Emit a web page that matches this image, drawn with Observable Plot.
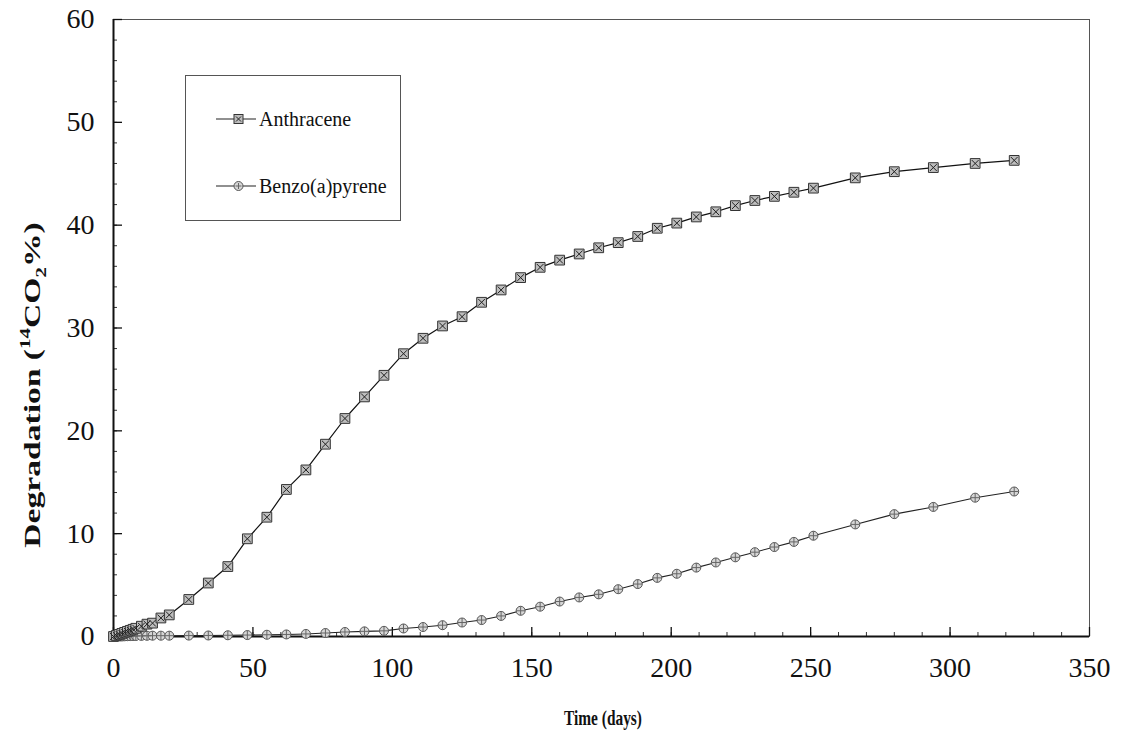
<!DOCTYPE html>
<html><head><meta charset="utf-8">
<script src="https://cdn.jsdelivr.net/npm/d3@7"></script>
<script src="https://cdn.jsdelivr.net/npm/@observablehq/plot@0.6"></script>
<style>
html,body{margin:0;padding:0;background:#fff;}
#wrap{position:relative;width:1127px;height:739px;overflow:hidden;}
.legend{position:absolute;left:185px;top:75px;width:216px;height:146px;border:1px solid #555;box-sizing:border-box;background:#fff;font-family:"Liberation Serif","Times New Roman",serif;font-size:20px;color:#111;}
</style></head><body><div id="wrap"></div>
<script>
// ---- data ----
const days = [0,1,2,3,4,5,6,7,8,10,12,14,17,20,27,34,41,48,55,62,69,76,83,90,97,104,111,118,125,132,139,146,153,160,167,174,181,188,195,202,209,216,223,230,237,244,251,266,280,294,309,323];
const anthracene = [0,0.1,0.2,0.3,0.4,0.5,0.6,0.7,0.8,1.0,1.2,1.3,1.8,2.1,3.6,5.2,6.8,9.5,11.6,14.3,16.2,18.7,21.2,23.3,25.4,27.5,29.0,30.2,31.1,32.5,33.7,34.9,35.9,36.6,37.2,37.8,38.3,38.9,39.7,40.2,40.8,41.3,41.9,42.4,42.8,43.2,43.6,44.6,45.2,45.6,46.0,46.3];
const benzopyrene = [0,0,0,0,0.02,0.03,0.04,0.05,0.05,0.06,0.07,0.08,0.08,0.08,0.09,0.1,0.12,0.14,0.17,0.2,0.25,0.34,0.44,0.5,0.55,0.78,0.92,1.1,1.36,1.6,2.0,2.5,2.9,3.4,3.8,4.1,4.6,5.1,5.7,6.1,6.7,7.2,7.7,8.2,8.7,9.2,9.8,10.9,11.9,12.6,13.5,14.1];
const seriesNames = ["Anthracene","Benzo(a)pyrene"];
const xTicks = [0,50,100,150,200,250,300,350];
const yTicks = [0,10,20,30,40,50,60];
const xMinor = d3.range(0,351,10);
const yMinor = d3.range(0,61,2);
const xTitle = "Time (days)";

const antData = days.map((d,i)=>({day:d, value:anthracene[i]}));
const bapData = days.map((d,i)=>({day:d, value:benzopyrene[i]}));

const W = 1127, H = 739;
const mL = 113, mR = 38, mT = 19, mB = 103;
const fw = W - mL - mR, fh = H - mT - mB;

const svg = Plot.plot({
  width: W, height: H,
  marginLeft: mL, marginRight: mR, marginTop: mT, marginBottom: mB,
  style: {fontFamily: "'Liberation Serif','Times New Roman',serif", fontSize: "28px", background: "#fff", color: "#111"},
  x: {domain: [0,350]},
  y: {domain: [0,60]},
  marks: [
    Plot.frame({stroke: "#555", strokeWidth: 1}),
    Plot.tickX(xMinor, {x: d=>d, insetTop: fh-4, stroke: "#333"}),
    Plot.tickX(xTicks, {x: d=>d, insetTop: fh-9, stroke: "#111", strokeWidth: 1.3}),
    Plot.tickY(yMinor, {y: d=>d, insetRight: fw-4, stroke: "#333"}),
    Plot.tickY(yTicks, {y: d=>d, insetRight: fw-9, stroke: "#111", strokeWidth: 1.3}),
    Plot.ruleX([0], {stroke: "#111", strokeWidth: 2}),
    Plot.ruleY([0], {stroke: "#111", strokeWidth: 2}),
    Plot.axisX({ticks: xTicks, tickSize: 0, tickPadding: 21, label: null, tickFormat: d=>String(d)}),
    Plot.axisY({ticks: yTicks, tickSize: 0, tickPadding: 19, label: null, tickFormat: d=>String(d)}),
    Plot.line(bapData, {x: "day", y: "value", stroke: "#222", strokeWidth: 1.1}),
    Plot.dot(bapData, {x: "day", y: "value", symbol: "circle", r: 4.5, fill: "#d6d6d6", stroke: "#555", strokeWidth: 1}),
    Plot.dot(bapData, {x: "day", y: "value", symbol: "plus", r: 3, stroke: "#666", strokeWidth: 1}),
    Plot.line(antData, {x: "day", y: "value", stroke: "#111", strokeWidth: 1.2}),
    Plot.dot(antData, {x: "day", y: "value", symbol: "square", r: 5.5, fill: "#bdbdbd", stroke: "#333", strokeWidth: 1}),
    Plot.dot(antData, {x: "day", y: "value", symbol: "times", r: 3.2, stroke: "#222", strokeWidth: 1})
  ]
});

const s = d3.select(svg);
s.append("text")
  .attr("transform", `translate(${mL + fw/2 + 2},725) scale(0.7,1)`)
  .attr("text-anchor", "middle")
  .attr("font-weight", "bold").attr("font-size", 22)
  .text(xTitle);

const yt = s.append("text")
  .attr("transform", `translate(40,385) rotate(-90) scale(1.4,1)`)
  .attr("text-anchor", "middle")
  .attr("font-weight", "bold").attr("font-size", 24);
yt.append("tspan").text("Degradation (");
yt.append("tspan").attr("dy", -10).attr("font-size", 15).text("14");
yt.append("tspan").attr("dy", 10).text("CO");
yt.append("tspan").attr("dy", 6).attr("font-size", 15).text("2");
yt.append("tspan").attr("dy", -6).text("%)");

const wrap = document.getElementById("wrap");
wrap.appendChild(svg);

// legend inside plot
const leg = document.createElement("div");
leg.className = "legend";
wrap.appendChild(leg);
const ls = d3.select(leg).append("svg").attr("width", 214).attr("height", 144)
  .style("font-family", "'Liberation Serif','Times New Roman',serif");
const rows = [{name: seriesNames[0], y: 43, kind: "sq"}, {name: seriesNames[1], y: 110, kind: "ci"}];
rows.forEach(r => {
  const g = ls.append("g");
  g.append("line").attr("x1", 30).attr("x2", 70).attr("y1", r.y).attr("y2", r.y).attr("stroke", "#222").attr("stroke-width", 1.1);
  if (r.kind === "sq") {
    g.append("rect").attr("x", 48).attr("y", r.y-4.5).attr("width", 9).attr("height", 9).attr("fill", "#bdbdbd").attr("stroke", "#333");
    g.append("path").attr("d", `M${50},${r.y-2.5}L${55},${r.y+2.5}M${55},${r.y-2.5}L${50},${r.y+2.5}`).attr("stroke", "#222");
  } else {
    g.append("circle").attr("cx", 52.5).attr("cy", r.y).attr("r", 4.5).attr("fill", "#d6d6d6").attr("stroke", "#555");
    g.append("path").attr("d", `M${49.5},${r.y}L${55.5},${r.y}M${52.5},${r.y-3}L${52.5},${r.y+3}`).attr("stroke", "#666");
  }
  g.append("text").attr("x", 73).attr("y", r.y + 7).attr("font-size", 20).attr("fill", "#111").text(r.name);
});
</script></body></html>
